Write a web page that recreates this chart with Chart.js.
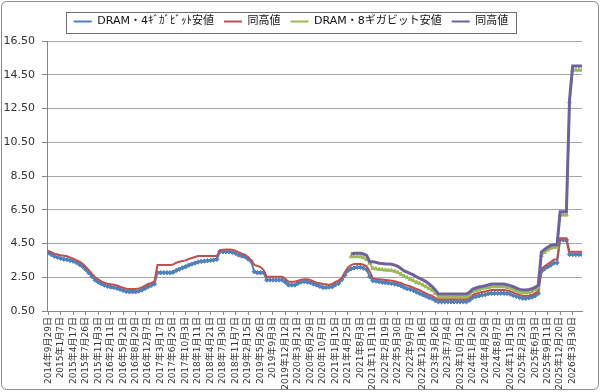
<!DOCTYPE html>
<html><head><meta charset="utf-8">
<script src="https://cdn.jsdelivr.net/npm/chart.js@4.4.1/dist/chart.umd.min.js"></script>
<style>html,body{margin:0;padding:0;background:#fff}canvas{display:block}</style>
</head><body>
<canvas id="c" width="600" height="392"></canvas>
<script>
// ---- data ----
const tickLabels = ['2014年9月29日','2015年1月7日','2015年4月17日','2015年7月26日','2015年11月3日','2016年2月11日','2016年5月21日','2016年8月29日','2016年12月7日','2017年3月17日','2017年6月25日','2017年10月3日','2018年1月11日','2018年4月21日','2018年7月30日','2018年11月7日','2019年2月15日','2019年5月26日','2019年9月3日','2019年12月12日','2020年3月21日','2020年6月29日','2020年10月7日','2021年1月15日','2021年4月25日','2021年8月3日','2021年11月11日','2022年2月19日','2022年5月30日','2022年9月7日','2022年12月16日','2023年3月26日','2023年7月4日','2023年10月12日','2024年1月20日','2024年4月29日','2024年8月7日','2024年11月15日','2025年2月23日','2025年6月3日','2025年9月11日','2025年12月20日','2026年3月30日'];
const tickStepDays = 100;   // days between x tick labels
const sampleStepDays = 25;  // days between the values below
const yTicks = [0.5,2.5,4.5,6.5,8.5,10.5,12.5,14.5,16.5];
const seriesNames = ['DRAM・4ｷﾞｶﾞﾋﾞｯﾄ安値','同高値','DRAM・8ギガビット安値','同高値'];

const low4 = [
3.95,3.84,3.74,3.68,3.62,3.57,3.55,3.50,3.45,3.38,
3.26,3.14,2.96,2.76,2.55,2.34,2.22,2.11,2.03,1.96,
1.92,1.89,1.85,1.78,1.72,1.66,1.64,1.64,1.64,1.68,
1.74,1.84,1.94,2.02,2.10,2.77,2.77,2.77,2.77,2.77,
2.80,2.90,2.98,3.06,3.12,3.22,3.28,3.34,3.40,3.44,
3.46,3.48,3.50,3.52,3.56,4.01,4.01,4.01,4.01,3.98,
3.92,3.82,3.76,3.72,3.58,3.45,2.83,2.77,2.77,2.77,
2.34,2.34,2.34,2.34,2.34,2.34,2.20,2.04,2.04,2.04,
2.14,2.22,2.24,2.22,2.18,2.10,2.04,1.96,1.90,1.90,
1.92,1.94,2.06,2.14,2.35,2.62,2.90,3.00,3.05,3.09,
3.09,3.04,2.95,2.53,2.30,2.27,2.24,2.20,2.18,2.16,
2.14,2.10,2.06,2.00,1.90,1.82,1.78,1.72,1.62,1.54,
1.46,1.38,1.30,1.24,1.12,1.05,1.05,1.05,1.05,1.05,
1.05,1.05,1.05,1.05,1.05,1.15,1.30,1.36,1.40,1.44,
1.47,1.52,1.55,1.55,1.55,1.55,1.55,1.54,1.50,1.42,
1.36,1.30,1.26,1.25,1.28,1.32,1.40,1.55,2.85,3.00,
3.12,3.22,3.35,3.35,4.71,4.71,4.71,3.85,3.85,3.85,
3.85,3.85];
const high4 = [
4.07,3.98,3.90,3.85,3.80,3.77,3.74,3.68,3.60,3.52,
3.42,3.30,3.12,2.92,2.70,2.50,2.38,2.26,2.18,2.12,
2.08,2.05,2.02,1.94,1.88,1.82,1.80,1.80,1.80,1.84,
1.90,2.00,2.10,2.16,2.24,3.23,3.23,3.23,3.23,3.23,
3.25,3.36,3.42,3.46,3.50,3.58,3.64,3.70,3.76,3.76,
3.76,3.76,3.76,3.76,3.76,4.11,4.13,4.15,4.15,4.13,
4.08,3.98,3.90,3.84,3.70,3.50,3.23,3.17,3.10,2.93,
2.53,2.53,2.53,2.53,2.53,2.53,2.40,2.24,2.24,2.24,
2.30,2.36,2.38,2.38,2.34,2.26,2.18,2.14,2.10,2.08,
2.04,2.10,2.22,2.30,2.45,2.80,3.08,3.22,3.29,3.29,
3.29,3.24,3.15,2.83,2.43,2.40,2.38,2.36,2.34,2.32,
2.30,2.26,2.20,2.16,2.08,2.02,1.95,1.88,1.80,1.74,
1.64,1.54,1.46,1.40,1.28,1.19,1.19,1.19,1.19,1.19,
1.19,1.19,1.19,1.19,1.19,1.30,1.45,1.52,1.58,1.62,
1.66,1.70,1.74,1.74,1.74,1.74,1.74,1.72,1.68,1.60,
1.52,1.45,1.40,1.39,1.42,1.46,1.55,1.70,3.00,3.15,
3.28,3.40,3.55,3.55,4.81,4.81,4.81,4.01,4.01,4.01,
4.01,4.01];
const series8Start = 97; // sample index where the 8Gb series begin
const low8 = [
3.72,3.72,3.72,
3.72,3.66,3.56,3.33,3.03,3.00,2.97,2.95,2.93,2.92,
2.90,2.86,2.78,2.68,2.56,2.48,2.38,2.30,2.20,2.14,
2.04,1.94,1.84,1.74,1.55,1.35,1.35,1.35,1.35,1.35,
1.35,1.35,1.35,1.35,1.35,1.46,1.65,1.72,1.78,1.83,
1.87,1.90,1.94,1.94,1.94,1.94,1.94,1.90,1.86,1.80,
1.70,1.62,1.58,1.58,1.61,1.66,1.75,1.90,3.80,3.98,
4.12,4.22,4.28,4.28,6.19,6.19,6.19,12.90,14.78,14.78,
14.78,14.78];
const high8 = [
3.88,3.92,3.92,
3.92,3.88,3.80,3.42,3.42,3.38,3.33,3.31,3.29,3.28,
3.27,3.22,3.15,3.02,2.88,2.80,2.72,2.64,2.52,2.43,
2.34,2.24,2.10,1.95,1.75,1.51,1.51,1.51,1.51,1.51,
1.51,1.51,1.51,1.51,1.51,1.62,1.80,1.86,1.92,1.96,
2.00,2.05,2.10,2.10,2.10,2.10,2.10,2.06,2.00,1.94,
1.86,1.78,1.74,1.74,1.77,1.82,1.90,2.02,4.00,4.15,
4.28,4.38,4.42,4.42,6.38,6.38,6.38,13.00,15.02,15.02,
15.02,15.02];

// ---- chart ----
const FONT = "'DejaVu Sans','Noto Sans CJK JP',sans-serif";
Chart.defaults.font.family = FONT;
const toPts = (arr, start) => arr.map((v, i) => ({x: (start + i) * sampleStepDays, y: v}));

const frame = {
  id: 'frame',
  beforeInit(chart) {
    const lg = chart.legend;
    if (lg) {
      const f = lg.fit;
      lg.fit = function () { f.apply(this, arguments); this.height = 35; };
    }
  },
  beforeDraw(chart) {
    const c = chart.ctx;
    c.save(); c.fillStyle = '#fff'; c.fillRect(0, 0, chart.width, chart.height); c.restore();
  },
  afterDraw(chart) {
    const c = chart.ctx;
    c.save();
    c.strokeStyle = '#8a8a8a'; c.lineWidth = 1;
    c.beginPath();
    if (c.roundRect) c.roundRect(1.5, 1.5, chart.width - 3, chart.height - 4, 5); else c.rect(1.5, 1.5, chart.width - 3, chart.height - 4);
    c.stroke();
    const hb = chart.legend && chart.legend.legendHitBoxes;
    if (hb && hb.length) {
      const l = Math.min(...hb.map(h => h.left));
      const r = Math.max(...hb.map(h => h.left + h.width));
      const t = Math.min(...hb.map(h => h.top));
      const b = Math.max(...hb.map(h => h.top + h.height));
      const cy = (t + b) / 2;
      c.strokeStyle = '#6e6e6e';
      c.strokeRect(Math.round(l - 8) + 0.5, Math.round(cy - 10) + 0.5, Math.round(r - l + 16), 21);
    }
    c.restore();
  }
};

new Chart(document.getElementById('c'), {
  type: 'line',
  data: {
    datasets: [
      {label: seriesNames[0], data: toPts(low4, 0), borderColor: '#4F81BD', backgroundColor: '#4F81BD',
       borderWidth: 2, pointStyle: 'rectRot', pointRadius: 2.2, pointBorderWidth: 1, pointBackgroundColor: '#4F81BD', pointBorderColor: '#4F81BD', order: 4},
      {label: seriesNames[1], data: toPts(high4, 0), borderColor: '#C0504D', backgroundColor: '#C0504D',
       borderWidth: 2, pointRadius: 0, order: 3},
      {label: seriesNames[2], data: toPts(low8, series8Start), borderColor: '#9BBB59', backgroundColor: '#9BBB59',
       borderWidth: 2, pointStyle: 'triangle', pointRadius: 2.2, pointBorderWidth: 1, pointBackgroundColor: '#9BBB59', pointBorderColor: '#9BBB59', order: 2},
      {label: seriesNames[3], data: toPts(high8, series8Start), borderColor: '#7060A0', backgroundColor: '#7060A0',
       borderWidth: 3, pointRadius: 0, order: 1}
    ]
  },
  options: {
    responsive: false,
    animation: false,
    devicePixelRatio: 1,
    layout: {padding: {top: 6, right: 18, bottom: 0, left: 0}},
    plugins: {
      tooltip: {enabled: false},
      legend: {
        position: 'top',
        labels: {
          usePointStyle: true, pointStyle: 'line', pointStyleWidth: 18,
          padding: 10, color: '#111', font: {size: 11, family: FONT},
          sort: (a, b) => a.datasetIndex - b.datasetIndex,
          generateLabels(chart) {
            const items = Chart.defaults.plugins.legend.labels.generateLabels(chart);
            return items.map(it => {
              const ds = chart.data.datasets[it.datasetIndex];
              return Object.assign(it, {lineWidth: 2, strokeStyle: ds.borderColor, fillStyle: ds.borderColor, pointStyle: 'line'});
            });
          }
        }
      }
    },
    scales: {
      x: {
        type: 'linear',
        min: -10,
        max: (low4.length - 1) * sampleStepDays,
        afterBuildTicks(s) { s.ticks = tickLabels.map((_, i) => ({value: i * tickStepDays})); },
        afterFit(s) { s.height = 81; },
        grid: {drawOnChartArea: false, drawTicks: true, tickLength: 4, color: '#868686'},
        border: {color: '#868686', width: 1},
        ticks: {autoSkip: false, maxRotation: 90, minRotation: 90, padding: 2, color: '#333',
                font: {size: 9, family: FONT}, callback: (v, i) => tickLabels[i]}
      },
      y: {
        min: 0.5, max: 16.5,
        afterBuildTicks(s) { s.ticks = yTicks.map(v => ({value: v})); },
        afterFit(s) { s.width = 47; },
        grid: {color: '#a6a6a6', tickLength: 5, drawTicks: true, tickColor: '#868686'},
        border: {color: '#868686', width: 1},
        ticks: {padding: 7, color: '#333', font: {size: 11, family: FONT}, callback: v => Number(v).toFixed(2)}
      }
    }
  },
  plugins: [frame]
});
</script>
</body></html>
